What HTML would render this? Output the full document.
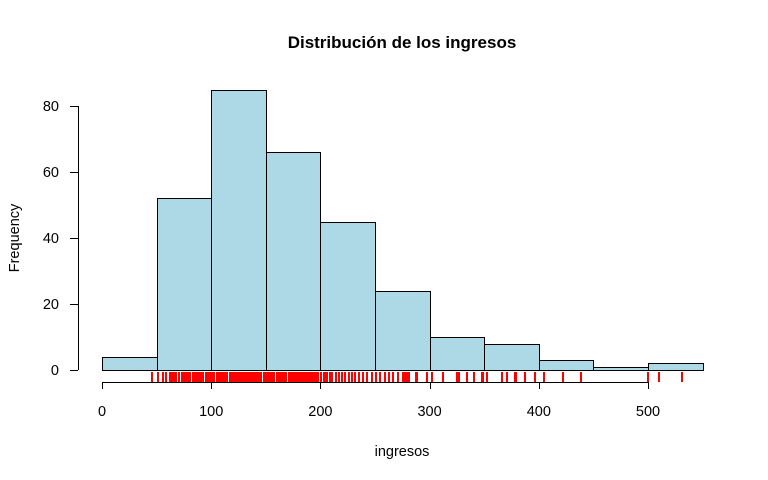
<!DOCTYPE html>
<html><head><meta charset="utf-8"><style>body{margin:0;background:#fff}svg{display:block;font-family:"Liberation Sans",Arial,sans-serif}</style></head>
<body>
<svg id="c" width="768" height="480">
<text x="402" y="48" text-anchor="middle" font-weight="bold" font-size="17">Distribución de los ingresos</text>
<text x="402" y="456" text-anchor="middle" font-size="14.5">ingresos</text>
<text transform="translate(19,238) rotate(-90)" text-anchor="middle" font-size="14.5">Frequency</text>
</svg>
<script>
const binStarts=[0,50,100,150,200,250,300,350,400,450,500];
const counts=[4,52,85,66,45,24,10,8,3,1,2];
const xTicks=[0,100,200,300,400,500];
const yTicks=[0,20,40,60,80];
const rugValues=[45,50,55,58,61,63,65,67,70,72,74,75,77,79,80,82,84,85,86,88,90,91,92,94,96,97,98,100,101,102,104,105,106,108,109,110,112,113,114,116,117,118,120,121,123,124,125,127,128,130,131,132,134,135,136,138,139,140,141,143,144,145,147,148,149,151,152,153,155,156,157,159,160,162,163,164,166,167,168,170,172,173,174,176,178,179,180,182,184,186,188,190,191,193,195,197,200,202,204,205,208,210,213,216,219,222,225,228,231,234,238,242,246,250,254,258,262,266,270,274.5,276,276.6,277.5,278.4,280.5,286.6,287.5,296.4,301,311.6,323.8,325.3,326.2,332.9,339.9,346.7,348.2,351.8,365.5,370.1,377.1,378.6,386.5,395.7,403.9,420.8,437.3,499.3,508.8,529.9];
const binWidth=50;
const X=v=>102+v*546/500;
const Y=v=>370-v*264/80;
const svg=document.getElementById('c');
const NS='http://www.w3.org/2000/svg';
function mk(t,a){const e=document.createElementNS(NS,t);for(const k in a)e.setAttribute(k,a[k]);svg.appendChild(e);return e;}
binStarts.forEach((b,i)=>{
 const r=mk('rect',{x:Math.round(X(b))+0.5,y:Math.round(Y(counts[i]))+0.5,width:Math.round(X(b+binWidth))-Math.round(X(b)),height:Math.round(Y(0))-Math.round(Y(counts[i])),fill:'#add8e6',stroke:'#000','stroke-width':1});
 
 
});
rugValues.forEach(v=>{
 const l=mk('rect',{x:Math.round(X(v)),y:372,width:2,height:10,fill:'#f00'});
 
 
});
const xa=mk('line',{x1:X(xTicks[0]),x2:X(xTicks[xTicks.length-1]),y1:382.5,y2:382.5,stroke:'#000'});


xTicks.forEach(t=>{
 const x=Math.round(X(t))+0.5;
 mk('line',{x1:x,x2:x,y1:382,y2:389,stroke:'#000'});
 const tx=mk('text',{x:X(t),y:416,'text-anchor':'middle','font-size':14.5});
 tx.textContent=t;
 
 
});
const ya=mk('line',{x1:78.5,x2:78.5,y1:Y(yTicks[0]),y2:Y(yTicks[yTicks.length-1]),stroke:'#000'});


yTicks.forEach(t=>{
 const y=Math.round(Y(t))+0.5;
 mk('line',{x1:70,x2:78,y1:y,y2:y,stroke:'#000'});
 const tx=mk('text',{x:59,y:Y(t)+5,'text-anchor':'end','font-size':14.5});
 tx.textContent=t;
 
 
});
</script>
</body></html>
